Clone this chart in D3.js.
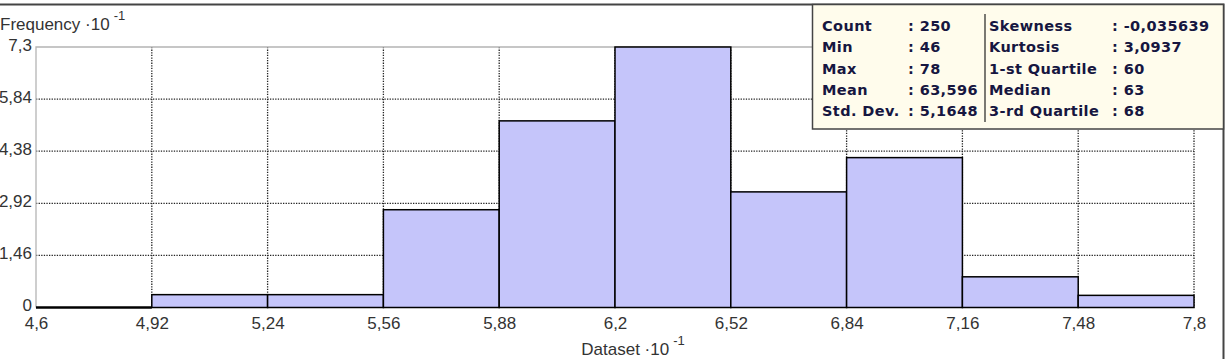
<!DOCTYPE html>
<html>
<head>
<meta charset="utf-8">
<script src="https://cdn.jsdelivr.net/npm/d3@7"></script>
<style>
  body { margin: 0; background: #fff; }
  svg { display: block; }
</style>
</head>
<body>
<svg id="chart" width="1230" height="359"></svg>
<script>
// histogram bins (dataset ·10^-1) and bar heights (frequency ·10^-1)
var binEdges = [4.6, 4.92, 5.24, 5.56, 5.88, 6.2, 6.52, 6.84, 7.16, 7.48, 7.8];
var freq = [0, 0.36, 0.36, 2.74, 5.23, 7.3, 3.24, 4.2, 0.86, 0.34];
var yTicks = [0, 1.46, 2.92, 4.38, 5.84, 7.3];

var statLabelsL = ["Count", "Min", "Max", "Mean", "Std. Dev."];
var statValuesL = ["250", "46", "78", "63,596", "5,1648"];
var statLabelsR = ["Skewness", "Kurtosis", "1-st Quartile", "Median", "3-rd Quartile"];
var statValuesR = ["-0,035639", "3,0937", "60", "63", "68"];

var svg = d3.select("#chart");
var W = 1230, H = 359;

var x = d3.scaleLinear().domain([4.6, 7.8]).range([36, 1194]);
var y = d3.scaleLinear().domain([0, 7.3]).range([307.5, 47]);

var fmt = function(d) { return String(+d.toFixed(2)).replace(".", ","); };

// dotted grid
var grid = svg.append("g");
grid.selectAll("line.h")
  .data(yTicks.slice(1, -1))
  .enter()
  .append("line")
  .attr("x1", x(4.6)).attr("x2", x(7.8))
  .attr("y1", d => y(d)).attr("y2", d => y(d))
  .attr("stroke", "#222").attr("stroke-width", 1.3)
  .attr("stroke-dasharray", "1.3,1.3");
grid.selectAll("line.v")
  .data(binEdges.slice(1))
  .enter()
  .append("line")
  .attr("x1", d => x(d)).attr("x2", d => x(d))
  .attr("y1", y(7.3)).attr("y2", y(0))
  .attr("stroke", "#222").attr("stroke-width", 1.3)
  .attr("stroke-dasharray", "1.3,1.3");

// plot frame (light gray)
svg.append("path")
  .attr("d", "M" + x(4.6) + "," + y(0) + "V" + y(7.3) + "H" + x(7.8) + "V" + (y(7.3) + 60))
  .attr("fill", "none").attr("stroke", "#b4b4b4").attr("stroke-width", 1.3);

// bars
var bins = freq.map((f, i) => ({ x0: binEdges[i], x1: binEdges[i + 1], f: f }));
var barG = svg.append("g");
barG.selectAll("rect")
  .data(bins.filter(d => d.f > 0))
  .enter()
  .append("rect")
  .attr("x", d => x(d.x0))
  .attr("y", d => y(d.f))
  .attr("width", d => x(d.x1) - x(d.x0))
  .attr("height", d => y(0) - y(d.f))
  .attr("fill", "#c5c5fa")
  .attr("stroke", "#000")
  .attr("stroke-width", 1.5);
// empty bins show as a heavy line on the baseline
barG.selectAll("line")
  .data(bins.filter(d => d.f === 0))
  .enter()
  .append("line")
  .attr("x1", d => x(d.x0)).attr("x2", d => x(d.x1))
  .attr("y1", y(0)).attr("y2", y(0))
  .attr("stroke", "#000").attr("stroke-width", 2.5);

// axes
var xAxis = d3.axisBottom(x).tickValues(binEdges).tickSize(0).tickPadding(9).tickFormat(fmt);
var gx = svg.append("g").attr("transform", "translate(0," + y(0) + ")").call(xAxis);
gx.select(".domain").remove();

var yAxis = d3.axisLeft(y).tickValues(yTicks).tickSize(0).tickPadding(4).tickFormat(fmt);
var gy = svg.append("g").attr("transform", "translate(" + x(4.6) + ",0)").call(yAxis);
gy.select(".domain").remove();

svg.selectAll(".tick text")
  .attr("font-family", "Liberation Sans, Arial, sans-serif")
  .attr("font-size", 17)
  .attr("fill", "#333");
gy.selectAll(".tick text").attr("dy", "0.2em");

// axis titles
var yTitle = svg.append("text")
  .attr("x", 0).attr("y", 30)
  .attr("font-family", "Liberation Sans, Arial, sans-serif")
  .attr("font-size", 17).attr("fill", "#333");
yTitle.append("tspan").text("Frequency ·10");
yTitle.append("tspan").attr("dx", 4).attr("dy", -10).attr("font-size", 13).text("-1");

var xTitle = svg.append("text")
  .attr("x", 633).attr("y", 355)
  .attr("text-anchor", "middle")
  .attr("font-family", "Liberation Sans, Arial, sans-serif")
  .attr("font-size", 17).attr("fill", "#333");
xTitle.append("tspan").text("Dataset ·10");
xTitle.append("tspan").attr("dx", 4).attr("dy", -10).attr("font-size", 13).text("-1");

// outer window border (top and right)
svg.append("path")
  .attr("d", "M0,4.5H1223.5V" + H)
  .attr("fill", "none").attr("stroke", "#444").attr("stroke-width", 2);

// statistics box
var box = svg.append("g");
box.append("rect")
  .attr("x", 812.5).attr("y", 4.5).attr("width", 411).attr("height", 124.5)
  .attr("fill", "#fffcec").attr("stroke", "#444").attr("stroke-width", 1.5);
box.append("line")
  .attr("x1", 985).attr("x2", 985).attr("y1", 14).attr("y2", 122)
  .attr("stroke", "#222").attr("stroke-width", 1.2);

var rowY = d3.scaleLinear().domain([0, 4]).range([31, 116]);
var statFont = function(sel) {
  sel.attr("font-family", "DejaVu Sans, Verdana, sans-serif")
    .attr("font-weight", "bold").attr("font-size", 14.5)
    .attr("letter-spacing", 0.4)
    .attr("fill", "#161640");
};
box.selectAll("text.ll").data(statLabelsL).enter().append("text")
  .attr("x", 822).attr("y", (d, i) => rowY(i)).text(d => d).call(statFont);
box.selectAll("text.lv").data(statValuesL).enter().append("text")
  .attr("x", 908).attr("y", (d, i) => rowY(i)).text(d => ": " + d).call(statFont);
box.selectAll("text.rl").data(statLabelsR).enter().append("text")
  .attr("x", 989).attr("y", (d, i) => rowY(i)).text(d => d).call(statFont);
box.selectAll("text.rv").data(statValuesR).enter().append("text")
  .attr("x", 1112).attr("y", (d, i) => rowY(i)).text(d => ": " + d).call(statFont);
</script>
</body>
</html>
